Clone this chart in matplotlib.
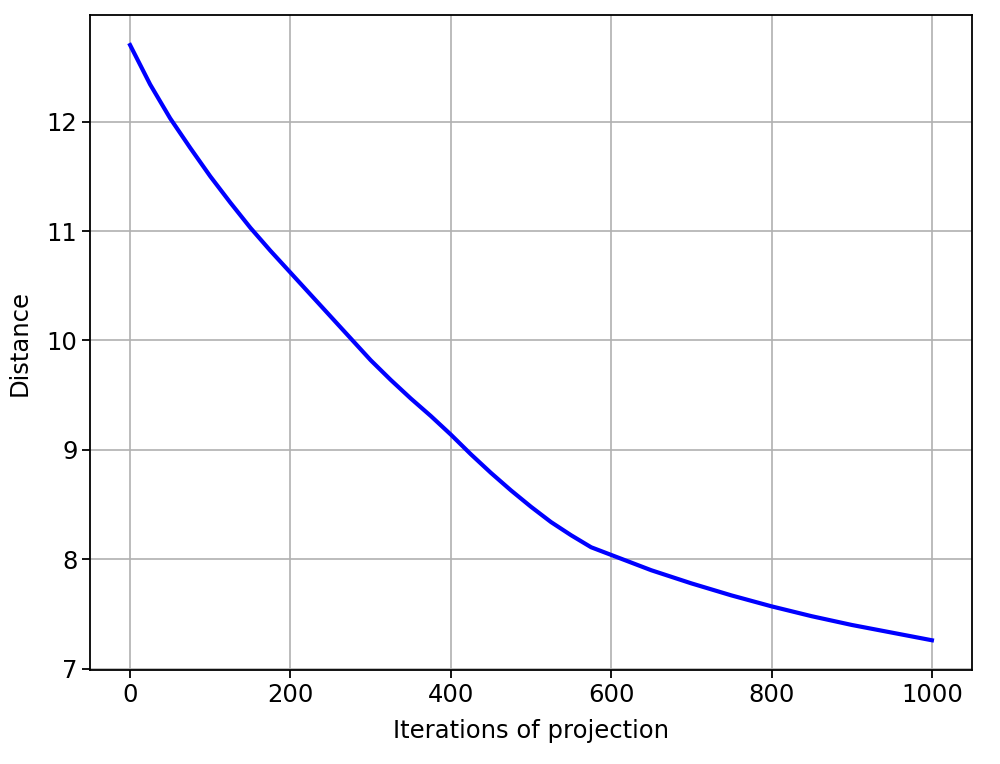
import matplotlib.pyplot as plt

# values, every 25 iterations
iterations = list(range(0, 1001, 25))
distance = [12.70, 12.34, 12.03, 11.76, 11.50, 11.26, 11.03, 10.82, 10.62, 10.42,
            10.22, 10.02, 9.82, 9.64, 9.47, 9.31, 9.14, 8.96, 8.79, 8.63,
            8.48, 8.34, 8.22, 8.11, 8.04, 7.97, 7.90, 7.84, 7.78, 7.725,
            7.67, 7.62, 7.57, 7.525, 7.48, 7.44, 7.40, 7.365, 7.33, 7.295, 7.26]

plt.rcParams['font.size'] = 17.5

fig, ax = plt.subplots(figsize=(10, 7.64), dpi=100)
fig.subplots_adjust(left=0.09, right=0.972, top=0.98, bottom=0.123)

ax.plot(iterations, distance, color='blue', linewidth=3)
ax.grid(True, linewidth=1.2)
ax.set_xticks([0, 200, 400, 600, 800, 1000])
ax.tick_params(length=5.5, width=1.3)
ax.set_xlabel('Iterations of projection', labelpad=9)
ax.set_ylabel('Distance', labelpad=11)
for s in ax.spines.values():
    s.set_linewidth(1.3)

plt.savefig('out.png')
plt.close()
